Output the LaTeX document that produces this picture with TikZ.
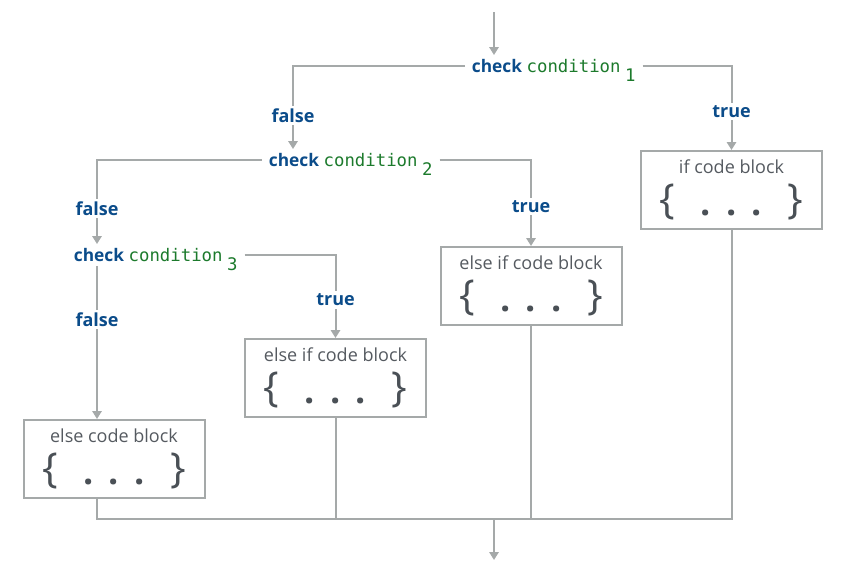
\documentclass[tikz,border=0pt]{standalone}
\usepackage{fontspec}
\setmainfont{Open Sans}
\newfontfamily\condfont{DejaVu Sans Mono}
\usetikzlibrary{arrows.meta,calc}
\definecolor{cblue}{HTML}{0B4C8A}
\definecolor{cgreen}{HTML}{1C7A2C}
\definecolor{lgray}{HTML}{A5A9A9}
\definecolor{tgray}{HTML}{555A60}
\definecolor{bgray}{HTML}{4A5056}
\newcommand\cond[1]{{\bfseries\color{cblue}check} {\condfont\color{cgreen}condition\hspace{3.5pt}\raisebox{-6.5pt}[0pt][0pt]{#1}}}
\newcommand\brow{\makebox[108pt]{\color{bgray}\fontsize{31}{31}\selectfont\{\hfill\raisebox{-1pt}{\fontsize{27}{27}\selectfont\bfseries .\hspace{11.5pt}.\hspace{11.5pt}.}\hfill\}}}
\begin{document}
\begin{tikzpicture}[x=0.75pt,y=-0.75pt,
  line/.style={draw=lgray,line width=1.5pt},
  arr/.style={line,-{Triangle[width=7pt,length=6pt]}},
  condnode/.style={anchor=west,inner xsep=5pt,inner ysep=3pt,font=\fontsize{13}{15}\selectfont},
  lbl/.style={fill=white,text=cblue,font=\bfseries\fontsize{13.5}{15}\selectfont,inner sep=2pt},
  codebox/.style={draw=lgray,line width=1.5pt,minimum width=135.75pt,minimum height=58.5pt,align=center,text=tgray,font=\fontsize{13.5}{15}\selectfont,inner sep=0pt}]
\useasboundingbox (0,0) rectangle (841,575);
% conditions
\node[condnode] (c1) at (465,66) {\cond{1}};
\node[condnode] (c2) at (262,160) {\cond{2}};
\node[condnode] (c3) at (67,255) {\cond{3}};
% code blocks
\node[codebox] (b1) at (731.5,190) {if code block\\[7pt]\brow};
\node[codebox] (b2) at (531,286) {else if code block\\[7pt]\brow};
\node[codebox] (b3) at (335.5,378) {else if code block\\[7pt]\brow};
\node[codebox] (b4) at (114,459) {else code block\\[7pt]\brow};
% helper coordinates
\coordinate (top) at (494,12);
\coordinate (k1) at (293,0);
\coordinate (k2) at (97,0);
\coordinate (j) at (494,519);
\coordinate (bot) at (494,560);
% connectors
\draw[arr] (top) -- (top |- c1.north);
\draw[arr] (c1.west) -| (k1 |- c2.north) node[lbl,pos=0.8] {false};
\draw[arr] (c1.east) -| (b1.north) node[lbl,pos=0.77] {true};
\draw[arr] (c2.west) -| (k2 |- c3.north) node[lbl,pos=0.79] {false};
\draw[arr] (c2.east) -| (b2.north) node[lbl,pos=0.77] {true};
\draw[arr] (c3.east) -| (b3.north) node[lbl,pos=0.77] {true};
\draw[arr] (k2 |- c3.south) -- (k2 |- b4.north) node[lbl,pos=0.35] {false};
% merge
\draw[line] (k2 |- b4.south) |- (j) -| (b1.south);
\draw[line] (b3.south) -- (b3.south |- j);
\draw[line] (b2.south) -- (b2.south |- j);
\draw[arr] (j) -- (bot);
\end{tikzpicture}
\end{document}
